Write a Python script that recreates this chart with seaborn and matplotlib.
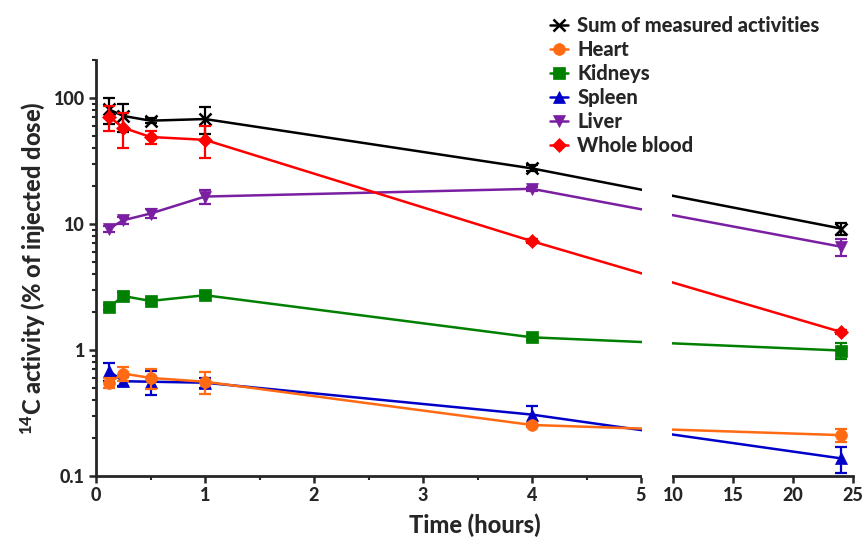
import numpy as np
import pandas as pd
import matplotlib
matplotlib.use("Agg")
import matplotlib.pyplot as plt
import seaborn as sns
from matplotlib.lines import Line2D
from matplotlib.patches import Rectangle
import matplotlib.transforms as mtransforms
from matplotlib.ticker import FixedLocator, FuncFormatter, NullFormatter

# ---------------- data ----------------
times = [0.12, 0.25, 0.5, 1, 4, 24]
series = ["Sum of measured activities", "Heart", "Kidneys", "Spleen", "Liver", "Whole blood"]
sum_vals = [81, 72, 66, 68, 27.6, 9.2]
sum_err = [19, 18, 3, 16, 1.5, 1.0]
heart_vals = [0.55, 0.65, 0.60, 0.56, 0.254, 0.211]
heart_err = [0.05, 0.08, 0.11, 0.11, 0.01, 0.024]
kidney_vals = [2.18, 2.68, 2.45, 2.72, 1.26, 0.99]
kidney_err = [0.10, 0.20, 0.10, 0.15, 0.05, 0.14]
spleen_vals = [0.68, 0.565, 0.56, 0.55, 0.307, 0.138]
spleen_err = [0.11, 0.05, 0.12, 0.05, 0.055, 0.033]
liver_vals = [9.2, 10.7, 12.1, 16.5, 19.0, 6.6]
liver_err = [0.5, 0.7, 1.0, 2.2, 0.8, 1.0]
blood_vals = [71, 58, 49, 46.5, 7.3, 1.39]
blood_err = [16, 18, 6, 13, 0.3, 0.05]

x_ticks = [0, 1, 2, 3, 4, 5, 10, 15, 20, 25]
y_ticks = [0.1, 1, 10, 100]
y_tick_labels = ["0.1", "1", "10", "100"]

values = [sum_vals, heart_vals, kidney_vals, spleen_vals, liver_vals, blood_vals]
errors = [sum_err, heart_err, kidney_err, spleen_err, liver_err, blood_err]
colors = ["#000000", "#FF6A13", "#008000", "#0000C8", "#7A1FA2", "#FF0000"]
markers = ["x", "o", "s", "^", "v", "D"]
msizes = [8, 8.5, 8, 8.5, 8.5, 7]
zorders = [3, 5, 3, 4, 3, 4]

rows = []
for name, vals, errs in zip(series, values, errors):
    for t, v, e in zip(times, vals, errs):
        rows.append({"series": name, "time": t, "value": v, "err": e})
df = pd.DataFrame(rows)

# ---------------- style ----------------
sns.set_style("ticks")
FONT = ["Lato", "DejaVu Sans"]
W = "black"
plt.rcParams["font.family"] = FONT
plt.rcParams["font.weight"] = W
plt.rcParams["axes.labelweight"] = W
plt.rcParams["mathtext.fontset"] = "custom"
plt.rcParams["mathtext.rm"] = "Lato:black"
plt.rcParams["mathtext.default"] = "rm"

# broken x-axis as a piecewise-linear scale
G = 32 / 109.0   # gap width (in left-segment units)
K = 12 / 109.0   # compression of the right segment

def fwd(x):
    x = np.asarray(x, dtype=float)
    return np.where(x <= 5, x,
                    np.where(x >= 10, 5 + G + (x - 10) * K, 5 + (x - 5) * G / 5))

def inv(y):
    y = np.asarray(y, dtype=float)
    return np.where(y <= 5, y,
                    np.where(y >= 5 + G, 10 + (y - 5 - G) / K, 5 + (y - 5) * 5 / G))

fig = plt.figure(figsize=(8.68, 5.49), dpi=100)
ax = fig.add_axes([96 / 868, 1 - 476 / 549, (853 - 96) / 868, 416 / 549])
ax.set_xscale("function", functions=(fwd, inv))
ax.set_yscale("log")

for name, col, mk, ms, zo in zip(series, colors, markers, msizes, zorders):
    sub = df[df["series"] == name]
    sns.lineplot(data=sub, x="time", y="value", color=col, marker=mk,
                 markersize=ms, markeredgecolor=col, markeredgewidth=1.8 if mk == "x" else 0.5,
                 linewidth=1.8, ax=ax, zorder=zo, legend=False, estimator=None,
                 sort=True)
    ax.errorbar(sub["time"], sub["value"], yerr=sub["err"], fmt="none",
                ecolor=col, elinewidth=1.6, capsize=4, capthick=1.6, zorder=zo)

ax.set_xlim(0, 25)
ax.set_ylim(0.1, 200)
ax.xaxis.set_major_locator(FixedLocator(x_ticks))
ax.xaxis.set_minor_locator(FixedLocator([0.5, 1.5, 2.5, 3.5, 4.5]))
ax.yaxis.set_major_locator(FixedLocator(y_ticks))
ax.yaxis.set_major_formatter(FuncFormatter(lambda v, p: y_tick_labels[y_ticks.index(v)] if v in y_ticks else ""))
ax.yaxis.set_minor_formatter(NullFormatter())

for s in ["top", "right"]:
    ax.spines[s].set_visible(False)
for s in ["left", "bottom"]:
    ax.spines[s].set_linewidth(2)
ax.tick_params(axis="both", which="major", length=5, width=1.8, labelsize=13, pad=3, direction="out")
ax.tick_params(axis="both", which="minor", length=3, width=1.5, direction="out")
for lab in ax.get_xticklabels() + ax.get_yticklabels():
    lab.set_fontweight(W)

ax.set_xlabel("Time (hours)", fontsize=17, fontweight=W, labelpad=7)
ax.set_ylabel(r"$^{14}$C activity (% of injected dose)", fontsize=17, fontweight=W, labelpad=5)

# white mask over the axis break
trans = mtransforms.blended_transform_factory(ax.transData, ax.transAxes)
ax.add_patch(Rectangle((5.13, -0.006), 9.87 - 5.13, 1.05, transform=trans,
                       facecolor="white", edgecolor="none", zorder=20, clip_on=False))

handles = [Line2D([0], [0], color=c, marker=m, markersize=ms, markeredgecolor=c,
                  markeredgewidth=1.8 if m == "x" else 0.5, linewidth=1.8)
           for c, m, ms in zip(colors, markers, msizes)]
fig.legend(handles, series, loc="upper left", bbox_to_anchor=(0.622, 0.99),
           frameon=False, handlelength=0.9, handletextpad=0.45,
           labelspacing=0.25, borderpad=0, prop={"family": FONT, "weight": W, "size": 14.5})

fig.savefig("out.png", dpi=100)
